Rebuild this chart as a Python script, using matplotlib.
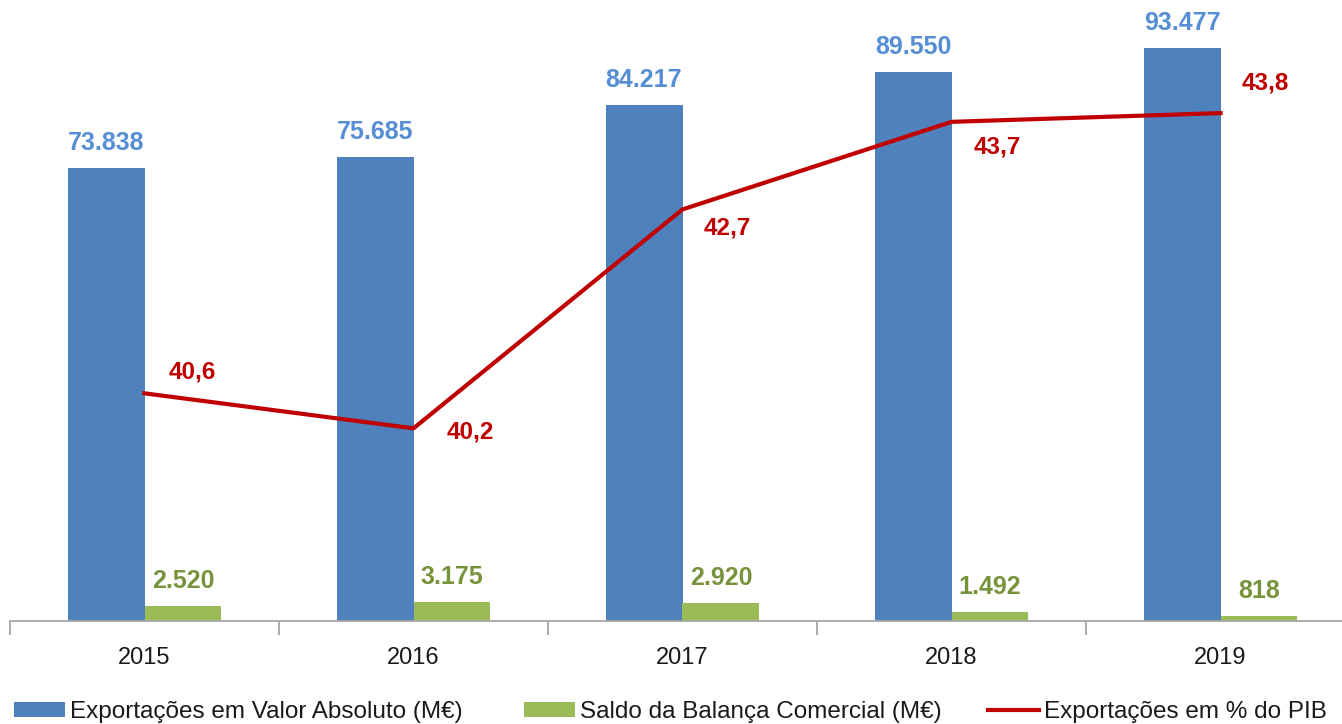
import matplotlib
matplotlib.use('Agg')
import matplotlib.pyplot as plt
from matplotlib.patches import Patch
from matplotlib.lines import Line2D
import numpy as np


# data
YEARS = ['2015', '2016', '2017', '2018', '2019']
EXPORTS = [73838, 75685, 84217, 89550, 93477]      # M€
BALANCE = [2520, 3175, 2920, 1492, 818]            # M€
EXPORTS_PCT_GDP = [40.6, 40.2, 42.7, 43.7, 43.8]   # % do PIB

# label offsets for the line (pixels, from the point to the text baseline)
LINE_LABEL_OFFSETS = [(24, 15), (33, -10), (21, -25), (22, -32), (21, 24)]

BLUE = '#4F81BD'
GREEN = '#9BBB59'
RED = '#C00000'
BLUE_TXT = '#558ED5'
GREEN_TXT = '#77933C'
AXIS_GREY = '#A6A6A6'

plt.rcParams['font.family'] = ['Liberation Sans', 'DejaVu Sans']


def fmt_thousands(v):
    return '{:,}'.format(v).replace(',', '.')


def fmt_pct(v):
    return ('%.1f' % v).replace('.', ',')


W, H = 1342, 724
fig = plt.figure(figsize=(W / 100.0, H / 100.0), dpi=100)
ax = fig.add_axes([10.0 / W, 103.0 / H, 1345.0 / W, 613.0 / H])

x = np.arange(len(YEARS))
bw = 0.286

ax.bar(x - bw / 2, EXPORTS, width=bw, color=BLUE, zorder=2)
ax.bar(x + bw / 2, BALANCE, width=bw, color=GREEN, zorder=2)

for xi, v in zip(x, EXPORTS):
    ax.annotate(fmt_thousands(v), xy=(xi - bw / 2, v), xytext=(0, 18),
                textcoords='offset pixels', ha='center', va='baseline',
                fontsize=18, fontweight='bold', color=BLUE_TXT)

for xi, v in zip(x, BALANCE):
    ax.annotate(fmt_thousands(v), xy=(xi + bw / 2, v), xytext=(0, 18),
                textcoords='offset pixels', ha='center', va='baseline',
                fontsize=18, fontweight='bold', color=GREEN_TXT)

ax.set_xlim(-0.5, len(YEARS) - 0.5)
ax.set_ylim(0, 100000)
ax.set_yticks([])
for side in ['top', 'right', 'left']:
    ax.spines[side].set_visible(False)
ax.spines['bottom'].set_color(AXIS_GREY)
ax.spines['bottom'].set_linewidth(1.3)

ax.set_xticks(x)
ax.set_xticklabels(YEARS, fontsize=17, color='#1a1a1a')
ax.tick_params(axis='x', which='major', length=0, pad=18.5)
ax.set_xticks(np.arange(-0.5, len(YEARS), 1.0), minor=True)
ax.tick_params(axis='x', which='minor', length=10, width=1.3,
               color=AXIS_GREY, direction='out')

# secondary axis for the % line
ax2 = ax.twinx()
ax2.set_ylim(38, 45)
ax2.plot(x, EXPORTS_PCT_GDP, color=RED, linewidth=3.0,
         solid_joinstyle='miter', zorder=3)
for xi, v, (dx, dy) in zip(x, EXPORTS_PCT_GDP, LINE_LABEL_OFFSETS):
    ax2.annotate(fmt_pct(v), xy=(xi, v), xytext=(dx, dy),
                 textcoords='offset pixels', ha='left', va='baseline',
                 fontsize=17.5, fontweight='bold', color=RED)
ax2.set_yticks([])
for side in ['top', 'right', 'left', 'bottom']:
    ax2.spines[side].set_visible(False)

# legend: three entries placed along the bottom
legend_items = [
    (Patch(facecolor=BLUE), 'Exportações em Valor Absoluto (M€)', 14),
    (Patch(facecolor=GREEN), 'Saldo da Balança Comercial (M€)', 524),
    (Line2D([], [], color=RED, linewidth=3.0), 'Exportações em % do PIB', 988),
]
for handle, label, px in legend_items:
    fig.legend([handle], [label], loc='center left',
               bbox_to_anchor=(px / float(W), 1 - 712.0 / H),
               frameon=False, fontsize=17.5, borderpad=0, borderaxespad=0,
               handlelength=2.1, handleheight=0.6, handletextpad=0.2,
               labelcolor='#1a1a1a')

fig.savefig('out.png', dpi=100)
